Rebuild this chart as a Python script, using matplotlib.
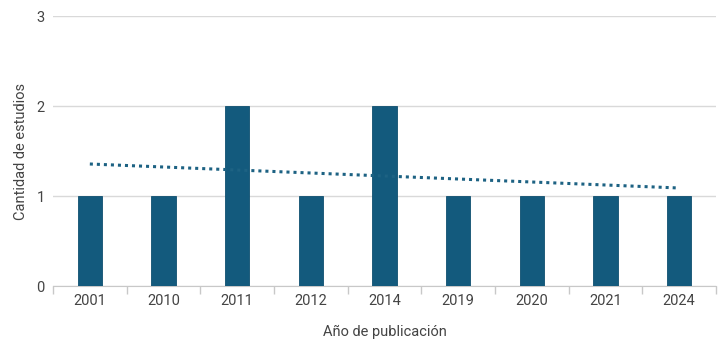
import matplotlib
matplotlib.use("Agg")
import matplotlib.pyplot as plt
import numpy as np

years = ["2001", "2010", "2011", "2012", "2014", "2019", "2020", "2021", "2024"]
counts = [1, 1, 2, 1, 2, 1, 1, 1, 1]

plt.rcParams['font.family'] = ['Roboto', 'DejaVu Sans']

fig = plt.figure(figsize=(7.21, 3.6), dpi=100)
ax = fig.add_axes([53/721, 1-286/360, (716-53)/721, (286-16)/360])

x = np.arange(len(years))
bar_color = "#135a7d"
ax.bar(x, counts, width=0.33, color=bar_color, edgecolor="#0f4f70", lw=0.6, zorder=3)

coef = np.polyfit(x, counts, 1)
xt = np.array([x[0], x[-1]])
ax.plot(xt, np.polyval(coef, xt), linestyle=(0, (1, 1.3)), color="#1d6283", lw=2.2, zorder=4)

ax.set_xlim(-0.5, len(years) - 0.5)
ax.set_ylim(0, 3)
ax.set_yticks([0, 1, 2, 3])
ax.yaxis.grid(True, color="#d9d9d9", lw=1, zorder=0)
ax.set_axisbelow(True)

ax.set_xticks(x)
ax.set_xticklabels(years)
ax.set_xticks(np.arange(-0.5, len(years)), minor=True)
ax.tick_params(axis='x', which='major', length=0, pad=6, labelsize=10.5, labelcolor="#444444")
ax.tick_params(axis='x', which='minor', length=6, color="#c8c8c8", width=1)
ax.tick_params(axis='y', length=0, pad=6, labelsize=10.5, labelcolor="#444444")

for s in ["top", "right", "left"]:
    ax.spines[s].set_visible(False)
ax.spines["bottom"].set_color("#c8c8c8")

ax.set_xlabel("Año de publicación", fontsize=10.5, color="#444444", labelpad=12)
ax.set_ylabel("Cantidad de estudios", fontsize=10.5, color="#444444", labelpad=6)

fig.savefig("out.png", dpi=100, facecolor="white")
